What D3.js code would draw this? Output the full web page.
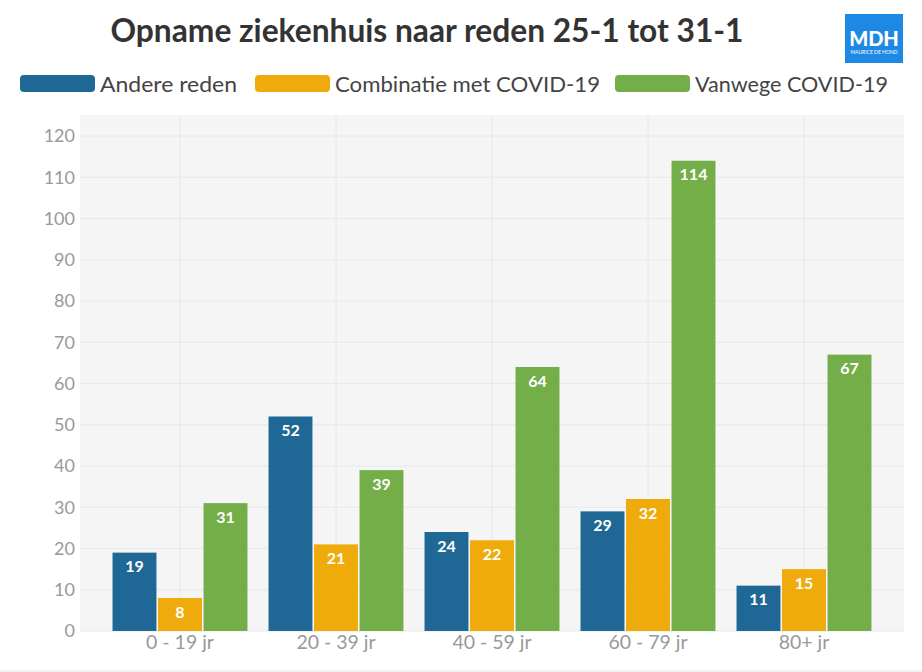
<!DOCTYPE html>
<html><head><meta charset="utf-8">
<script src="https://cdn.jsdelivr.net/npm/d3@7"></script>
<style>body{margin:0;background:#fff}svg{display:block}</style>
</head><body>
<svg id="c" width="922" height="672"></svg>
<script>
const categories = ["0 - 19 jr","20 - 39 jr","40 - 59 jr","60 - 79 jr","80+ jr"];
const seriesNames = ["Andere reden","Combinatie met COVID-19","Vanwege COVID-19"];
const andereReden = [19,52,24,29,11];
const combinatie = [8,21,22,32,15];
const vanwege = [31,39,64,114,67];
const yTicks = [0,10,20,30,40,50,60,70,80,90,100,110,120];
const colors = ["#1f6794","#efab0b","#73ae48"];
const seriesValues = [andereReden, combinatie, vanwege];

const font = "Lato, 'Source Sans Pro', sans-serif";
const svg = d3.select("#c");

// plot background
svg.append("rect").attr("x",80).attr("y",115).attr("width",824).attr("height",516).attr("fill","#f5f5f5");

const y = d3.scaleLinear().domain([0,120]).range([631,136]);
const x0 = d3.scaleBand().domain(categories).range([102,882]).paddingInner(0.135).paddingOuter(0.0675);
const x1 = d3.scaleBand().domain(seriesNames).range([0,x0.bandwidth()]).paddingInner(0.035);

// grid
svg.append("g").selectAll("line").data(yTicks).join("line")
  .attr("x1",80).attr("x2",904).attr("y1",d=>y(d)).attr("y2",d=>y(d))
  .attr("stroke","#e8e8e8").attr("stroke-width",1);
svg.append("g").selectAll("line").data(categories).join("line")
  .attr("y1",115).attr("y2",631).attr("x1",d=>x0(d)+x0.bandwidth()/2).attr("x2",d=>x0(d)+x0.bandwidth()/2)
  .attr("stroke","#e8e8e8").attr("stroke-width",1);

// y axis
const yAxis = svg.append("g").attr("transform","translate(80,0)")
  .call(d3.axisLeft(y).tickValues(yTicks).tickSize(0).tickPadding(5));
yAxis.select(".domain").remove();
yAxis.selectAll("text").attr("font-family",font).attr("font-size",18).attr("fill","#999");

// x axis
const xAxis = svg.append("g").attr("transform","translate(0,631)")
  .call(d3.axisBottom(x0).tickSize(0).tickPadding(4));
xAxis.select(".domain").remove();
xAxis.selectAll("text").attr("font-family",font).attr("font-size",19.5).attr("fill","#999");

// bars
const data = [];
categories.forEach((c,i)=>seriesNames.forEach((s,j)=>data.push({c,s,j,v:seriesValues[j][i]})));
svg.append("g").selectAll("rect").data(data).join("rect")
  .attr("x",d=>x0(d.c)+x1(d.s)).attr("width",x1.bandwidth())
  .attr("y",d=>y(d.v)).attr("height",d=>y(0)-y(d.v))
  .attr("fill",d=>colors[d.j]);
svg.append("g").selectAll("text").data(data).join("text")
  .attr("x",d=>x0(d.c)+x1(d.s)+x1.bandwidth()/2).attr("y",d=>y(d.v)+19.5)
  .attr("text-anchor","middle").attr("font-family",font).attr("font-weight","bold")
  .attr("font-size",16).attr("fill","#fff").text(d=>d.v);

// title
svg.append("text").attr("x",427).attr("y",42).attr("text-anchor","middle")
  .attr("font-family",font).attr("font-weight","bold").attr("font-size",32).attr("fill","#333")
  .attr("textLength",633).attr("lengthAdjust","spacingAndGlyphs")
  .text("Opname ziekenhuis naar reden 25-1 tot 31-1");

// legend
const legX = [20,255,615];
const legW = [137,265,193];
const lg = svg.append("g").selectAll("g").data(seriesNames).join("g")
  .attr("transform",(d,i)=>`translate(${legX[i]},75)`);
lg.append("rect").attr("width",75).attr("height",17).attr("rx",4).attr("fill",(d,i)=>colors[i]);
lg.append("text").attr("x",80).attr("y",17).attr("font-family",font).attr("font-size",21.5).attr("fill","#444")
  .attr("textLength",(d,i)=>legW[i]).attr("lengthAdjust","spacingAndGlyphs").text(d=>d);

// logo
svg.append("rect").attr("x",845).attr("y",14).attr("width",58).attr("height",49).attr("fill","#1e88e5");
svg.append("text").attr("x",874).attr("y",46).attr("text-anchor","middle").attr("font-family",font)
  .attr("font-weight","900").attr("font-size",20).attr("fill","#fff").text("MDH");
svg.append("text").attr("x",874).attr("y",54).attr("text-anchor","middle").attr("font-family",font)
  .attr("font-size",5).attr("fill","#fff").text("MAURICE DE HOND");

// bottom line
svg.append("line").attr("x1",0).attr("x2",922).attr("y1",671).attr("y2",671).attr("stroke","#e2e2e2");
</script>
</body></html>
